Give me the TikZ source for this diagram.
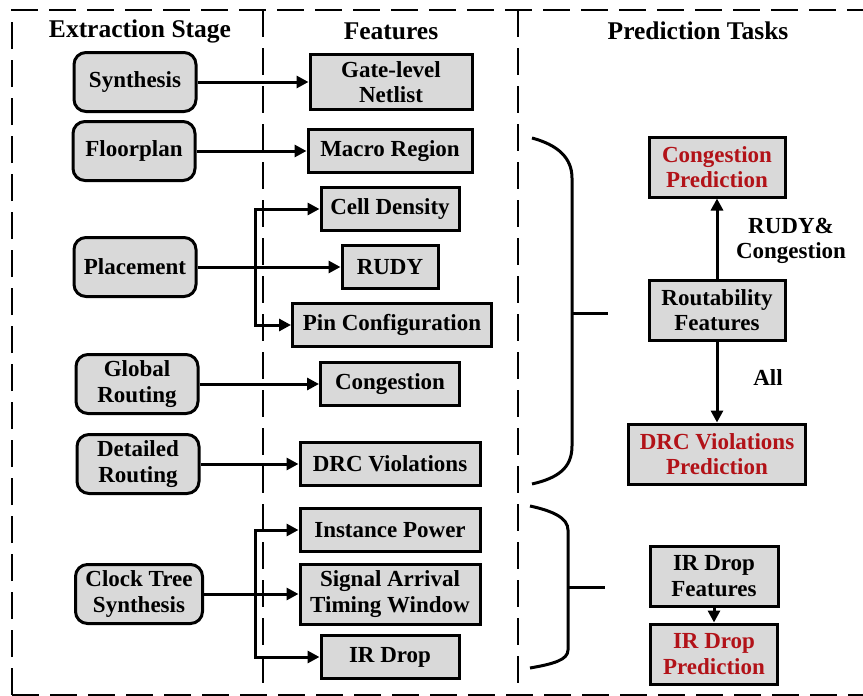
\documentclass[tikz,border=0pt]{standalone}
\usepackage{fontspec}
\setmainfont{Liberation Serif}
\usetikzlibrary{
    positioning,  % relative positioning
    arrows.meta,  % arrow tips
    calc          % coordinate calculation
}
\definecolor{boxgray}{RGB}{217,217,217}
\definecolor{taskred}{RGB}{178,18,24}
\newcommand{\bodyfont}{\fontsize{23}{25.5}\selectfont\bfseries}
\newcommand{\headfont}{\fontsize{25.5}{28}\selectfont\bfseries}

\begin{document}
\begin{tikzpicture}[
        x=1pt, y=-1pt,
        stage/.style={
            rectangle,
            rounded corners=12pt,
            draw=black,
            line width=3pt,
            minimum width=122pt,
            minimum height=59pt,
            inner sep=2pt,
            align=center,
            fill=boxgray,
            font=\bodyfont
        },
        feat/.style={
            rectangle,
            draw=black,
            line width=3pt,
            minimum width=#1,
            minimum height=43pt,
            inner sep=2pt,
            align=center,
            fill=boxgray,
            font=\bodyfont
        },
        feat/.default=138pt,
        task/.style={
            feat=#1,
            minimum height=60pt
        },
        head/.style={
            font=\headfont
        },
        arrow/.style={
            -{Triangle[length=12pt,width=12pt]},
            line width=3pt
        },
        divider/.style={
            dash pattern=on 27pt off 11pt,
            line width=2.8pt
        },
        brace/.style={
            line width=3pt
        }
    ]
    \useasboundingbox (0,0) rectangle (863,696);

    % 虚线边框与分栏
    \begin{scope}
        \clip (0,0) rectangle (863,696);
        \draw[divider] (12,695) -- (12,10) -- (900,10);
        \draw[divider] (12,695) -- (900,695);
        \draw[divider] (263,10) -- (263,695);
        \draw[divider] (518,10) -- (518,695);
    \end{scope}

    % 栏标题
    \node[head] (hstage) at (140,31) {Extraction Stage};
    \node[head] (hfeat) at (391,31) {Features};
    \node[head] (htask) at (698,31) {Prediction Tasks};

    % 第一栏：提取阶段
    \node[stage] (syn) at (135,82) {Synthesis};
    \node[stage] (floor) at (134,151) {Floorplan};
    \node[stage] (place) at (135,267) {Placement};
    \node[stage] (groute) at (137,384) {Global\\Routing};
    \node[stage] (droute) at (138,464) {Detailed\\Routing};
    \node[stage, minimum width=127pt] (cts) at (139,594) {Clock Tree\\Synthesis};

    % 第二栏：特征
    \node[feat=162pt, minimum height=55pt] (netlist) at (391,82) {Gate-level\\Netlist};
    \node[feat=164pt] (macro) at (390,151) {Macro Region};
    \node[feat] (celld) at (390,209) {Cell Density};
    \node[feat=96pt] (rudy) at (390,267) {RUDY};
    \node[feat=199pt] (pincfg) at (392,325) {Pin Configuration};
    \node[feat=139pt] (cong) at (390,384) {Congestion};
    \node[feat=180pt] (drc) at (390,464) {DRC Violations};
    \node[feat=180pt] (ipower) at (390,530) {Instance Power};
    \node[feat=180pt, minimum height=60pt] (satw) at (390,594) {Signal Arrival\\Timing Window};
    \node[feat] (irdrop) at (390,657) {IR Drop};

    % 箭头连接
    \draw[arrow] (syn) -- (netlist);
    \draw[arrow] (floor) -- (macro);
    \draw[arrow] (place) -- (rudy);
    \coordinate (pbr) at (255,267);
    \draw[arrow] (pbr) |- (celld.west);
    \draw[arrow] (pbr) |- (pincfg.west);
    \draw[arrow] (groute) -- (cong);
    \draw[arrow] (droute) -- (drc);
    \draw[arrow] (cts) -- (satw);
    \coordinate (cbr) at (255,594);
    \draw[arrow] (cbr) |- (ipower.west);
    \draw[arrow] (cbr) |- (irdrop.west);

    % 大括号
    \draw[brace] (532,138) .. controls (558,145) and (572,158) .. (572,178)
        -- (572,446) .. controls (572,468) and (558,478) .. (532,484);
    \draw[brace] (572,313) -- (608,313);
    \draw[brace] (530,506) .. controls (553,511) and (568,518) .. (568,530)
        -- (568,650) .. controls (568,660) and (553,664) .. (530,668);
    \draw[brace] (568,587) -- (605,587);

    % 第三栏：预测任务
    \node[task=136pt, text=taskred] (congp) at (717,167) {Congestion\\Prediction};
    \node[task=136pt] (routf) at (717,310) {Routability\\Features};
    \node[task=177pt, text=taskred] (drcp) at (717,454) {DRC Violations\\Prediction};
    \node[task=128pt] (irf) at (714,576) {IR Drop\\Features};
    \node[task=127pt, text=taskred] (irp) at (714,654) {IR Drop\\Prediction};

    \draw[arrow] (routf) -- (congp);
    \draw[arrow] (routf) -- (drcp);
    \draw[arrow] (irf) -- (irp);

    % 箭头标注
    \node[font=\bodyfont, align=center] (lrudy) at (791,241) {RUDY\&\\Congestion};
    \node[font=\bodyfont] (lall) at (768,378) {All};
\end{tikzpicture}
\end{document}
